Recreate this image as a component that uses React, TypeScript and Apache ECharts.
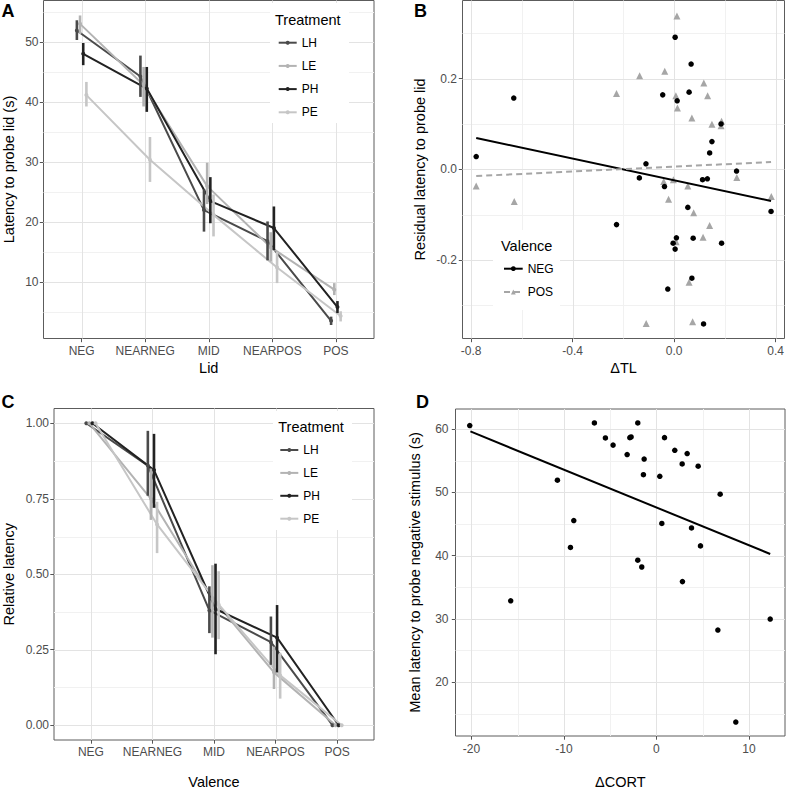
import React, { useEffect, useRef } from "react";
import * as echarts from "echarts";

// ---------- shared categories ----------
const lids = ["NEG", "NEARNEG", "MID", "NEARPOS", "POS"];
const lidPositions = [1, 2, 3, 4, 5];
const treatments = ["LH", "LE", "PH", "PE"];
const treatmentColors = ["#4a4a4a", "#b3b3b3", "#222222", "#c6c6c6"];
const dodgeOffsets = [-0.075, -0.025, 0.025, 0.075];

// ---------- panel A: latency to probe lid (s) ----------
const latLH = [52.0, 44.3, 22.0, 16.8, 3.5];
const latLHlo = [50.4, 40.9, 18.4, 13.6, 2.8];
const latLHhi = [53.7, 47.8, 25.5, 20.1, 4.2];
const latLE = [53.1, 42.9, 26.0, 15.8, 8.7];
const latLElo = [51.4, 39.3, 23.0, 13.4, 7.8];
const latLEhi = [54.5, 45.9, 29.9, 18.3, 9.8];
const latPH = [48.1, 42.3, 23.5, 19.0, 5.8];
const latPHlo = [46.2, 38.4, 19.8, 15.3, 4.8];
const latPHhi = [49.9, 45.9, 27.5, 22.6, 6.8];
const latPE = [41.2, 30.4, 21.2, 12.4, 4.3];
const latPElo = [39.3, 26.7, 17.6, 9.8, 3.4];
const latPEhi = [43.4, 34.2, 24.6, 15.0, 5.1];
const latTicks = [10, 20, 30, 40, 50];
const latMinor = [5, 15, 25, 35, 45, 55];

// ---------- panel C: relative latency ----------
const relLH = [1.0, 0.86, 0.38, 0.275, 0.0];
const relLHlo = [1.0, 0.76, 0.305, 0.2, 0.0];
const relLHhi = [1.0, 0.975, 0.46, 0.36, 0.0];
const relLE = [1.0, 0.75, 0.42, 0.175, 0.0];
const relLElo = [1.0, 0.68, 0.29, 0.12, 0.0];
const relLEhi = [1.0, 0.85, 0.53, 0.26, 0.0];
const relPH = [1.0, 0.845, 0.385, 0.29, 0.0];
const relPHlo = [1.0, 0.72, 0.235, 0.175, 0.0];
const relPHhi = [1.0, 0.965, 0.535, 0.398, 0.0];
const relPE = [1.0, 0.665, 0.4, 0.165, 0.0];
const relPElo = [1.0, 0.57, 0.285, 0.088, 0.0];
const relPEhi = [1.0, 0.74, 0.51, 0.24, 0.0];
const relTicks = [0, 0.25, 0.5, 0.75, 1.0];
const relMinor = [0.125, 0.375, 0.625, 0.875];

// ---------- panel B: residual latency vs delta TL ----------
const negPoints: [number, number][] = [
  [-0.78, 0.028], [-0.632, 0.157], [-0.227, -0.122], [-0.137, -0.019], [-0.111, 0.012],
  [-0.045, 0.164], [-0.038, -0.038], [-0.025, -0.264], [-0.004, -0.163], [0.004, 0.291],
  [0.004, -0.176], [0.009, -0.151], [0.012, 0.151], [0.054, -0.084], [0.059, 0.17],
  [0.067, 0.232], [0.07, -0.24], [0.075, -0.152], [0.112, -0.023], [0.116, -0.341],
  [0.131, -0.021], [0.14, 0.036], [0.149, 0.061], [0.185, 0.1], [0.187, -0.163],
  [0.246, -0.004], [0.382, -0.093],
];
const posPoints: [number, number][] = [
  [-0.78, -0.037], [-0.63, -0.071], [-0.227, 0.167], [-0.136, 0.206], [-0.11, -0.34],
  [-0.037, 0.216], [-0.041, -0.027], [-0.022, -0.066], [-0.003, -0.023], [0.007, 0.162],
  [0.011, 0.338], [0.013, 0.135], [0.008, -0.16], [0.054, -0.037], [0.059, -0.249],
  [0.07, 0.113], [0.073, -0.336], [0.077, -0.096], [0.114, -0.15], [0.117, 0.19],
  [0.132, 0.162], [0.14, -0.124], [0.149, 0.099], [0.185, 0.096], [0.187, 0.106],
  [0.247, -0.018], [0.383, -0.06],
];
const negFit: [number, number][] = [[-0.78, 0.069], [0.382, -0.07]];
const posFit: [number, number][] = [[-0.78, -0.015], [0.382, 0.016]];
const tlTicks = [-0.8, -0.4, 0.0, 0.4];
const tlMinor = [-0.6, -0.2, 0.2];
const residTicks = [-0.2, 0.0, 0.2];
const residMinor = [-0.3, -0.1, 0.1, 0.3];

// ---------- panel D: mean latency vs delta CORT ----------
const cortPoints: [number, number][] = [
  [-20.19, 60.57], [-15.76, 32.85], [-10.71, 51.93], [-9.3, 41.29], [-8.94, 45.55],
  [-6.71, 60.98], [-5.52, 58.61], [-4.69, 57.48], [-3.17, 55.99], [-2.88, 58.66],
  [-2.74, 58.77], [-2.02, 60.98], [-2.02, 39.28], [-1.59, 38.2], [-1.41, 52.8],
  [-1.33, 55.27], [0.36, 52.54], [0.58, 45.09], [0.87, 58.66], [1.98, 56.66],
  [2.78, 54.5], [2.81, 35.89], [3.32, 56.14], [3.79, 44.37], [4.51, 54.14],
  [4.76, 41.54], [6.64, 28.23], [6.89, 49.72], [8.58, 13.68], [12.3, 29.97],
];
const cortFit: [number, number][] = [[-20.12, 59.64], [12.3, 40.26]];
const cortTicks = [-20, -10, 0, 10];
const cortMinor = [-15, -5, 5];
const meanLatTicks = [20, 30, 40, 50, 60];
const meanLatMinor = [15, 25, 35, 45, 55];

// axis ranges [min, max] per panel
const rangeAx = [0.4, 5.6];
const rangeAy = [0.55, 57.0];
const rangeBx = [-0.834, 0.435];
const rangeBy = [-0.373, 0.372];
const rangeCx = [0.4, 5.6];
const rangeCy = [-0.049, 1.049];
const rangeDx = [-21.73, 13.9];
const rangeDy = [11.47, 63.19];

const FONT = "'Liberation Sans', Arial, Helvetica, sans-serif";
const TICK_COLOR = "#4d4d4d";
const BORDER = "#5c5c5c";
const MAJOR_GRID = "#e3e3e3";
const MINOR_GRID = "#f1f1f1";

function valueAxis(o: any) {
  return {
    type: "value",
    gridIndex: o.grid,
    min: o.range[0],
    max: o.range[1],
    minInterval: o.step,
    maxInterval: o.step,
    axisLine: { show: false, onZero: false },
    axisTick: {
      show: true,
      length: 3.7,
      customValues: o.ticks,
      lineStyle: { color: "#555555", width: 1 },
    },
    axisLabel: {
      customValues: o.ticks,
      color: TICK_COLOR,
      fontSize: 12,
      fontFamily: FONT,
      margin: o.margin,
      formatter: o.formatter,
    },
    splitLine: { show: false },
    minorSplitLine: { show: false },
    name: o.name,
    nameLocation: "middle",
    nameGap: o.nameGap,
    nameTextStyle: { color: "#000", fontSize: 14.5, fontFamily: FONT },
  };
}

// grid lines drawn through the axes' own scales
function gridLineSeries(
  axisIndex: number,
  dir: "v" | "h",
  values: number[],
  otherMin: number,
  color: string,
  width: number
) {
  return {
    type: "custom",
    silent: true,
    xAxisIndex: axisIndex,
    yAxisIndex: axisIndex,
    data: values.map((v) => (dir === "v" ? [v, otherMin] : [otherMin, v])),
    encode: { x: 0, y: 1 },
    renderItem: (params: any, api: any) => {
      const cs = params.coordSys;
      const p = api.coord([api.value(0), api.value(1)]);
      if (dir === "v") {
        const x = Math.round(p[0]) + 0.5;
        return {
          type: "line",
          shape: { x1: x, y1: cs.y, x2: x, y2: cs.y + cs.height },
          style: { stroke: color, lineWidth: width },
        };
      }
      const y = Math.round(p[1]) + 0.5;
      return {
        type: "line",
        shape: { x1: cs.x, y1: y, x2: cs.x + cs.width, y2: y },
        style: { stroke: color, lineWidth: width },
      };
    },
    z: 0.5,
  };
}

function lineGroupSeries(
  axisIndex: number,
  means: number[][],
  los: number[][],
  his: number[][]
) {
  const out: any[] = [];
  treatments.forEach((t, i) => {
    const color = treatmentColors[i];
    out.push({
      name: t,
      type: "line",
      xAxisIndex: axisIndex,
      yAxisIndex: axisIndex,
      data: means[i].map((v, j) => [lidPositions[j] + dodgeOffsets[i], v]),
      symbol: "circle",
      symbolSize: 4,
      showSymbol: true,
      lineStyle: { color, width: 2 },
      itemStyle: { color },
      z: 2,
    });
    out.push({
      name: t + " error",
      type: "custom",
      xAxisIndex: axisIndex,
      yAxisIndex: axisIndex,
      data: los[i].map((l, j) => [lidPositions[j] + dodgeOffsets[i], l, his[i][j]]),
      encode: { x: 0, y: [1, 2] },
      renderItem: (params: any, api: any) => {
        const x = api.value(0);
        const p1 = api.coord([x, api.value(1)]);
        const p2 = api.coord([x, api.value(2)]);
        return {
          type: "line",
          shape: { x1: p1[0], y1: p1[1], x2: p2[0], y2: p2[1] },
          style: { stroke: color, lineWidth: 2.6 },
        };
      },
      z: 3,
    });
  });
  return out;
}

export default function App() {
  const ref = useRef<HTMLDivElement>(null);

  useEffect(() => {
    if (!ref.current) return;
    const chart = echarts.init(ref.current, undefined, { renderer: "svg" });

    const gridBase = {
      show: true,
      backgroundColor: "#ffffff",
      borderColor: BORDER,
      borderWidth: 1,
      containLabel: false,
    };

    const legendBase = {
      orient: "vertical",
      padding: 0,
      itemWidth: 18,
      itemHeight: 5,
      itemGap: 11.2,
      selectedMode: false,
      textStyle: { fontSize: 12, fontFamily: FONT, color: "#000", lineHeight: 12 },
      z: 6,
    };

    const catFormatter = (v: number) => lids[lidPositions.indexOf(Math.round(v))] ?? "";

    const option: any = {
      animation: false,
      grid: [
        { ...gridBase, left: 43.5, top: 0.5, width: 330.5, height: 338 },
        { ...gridBase, left: 462.5, top: 0.5, width: 322, height: 338 },
        { ...gridBase, left: 54, top: 408.5, width: 320, height: 337 },
        { ...gridBase, left: 455.5, top: 409, width: 329.5, height: 335.5 },
      ],
      xAxis: [
        valueAxis({
          grid: 0, range: rangeAx, step: 1, ticks: lidPositions, margin: 6,
          formatter: catFormatter, name: "Lid", nameGap: 22,
        }),
        valueAxis({
          grid: 1, range: rangeBx, step: 0.4, ticks: tlTicks, margin: 6,
          formatter: (v: number) => v.toFixed(1), name: "\u0394TL", nameGap: 22,
        }),
        valueAxis({
          grid: 2, range: rangeCx, step: 1, ticks: lidPositions, margin: 6,
          formatter: catFormatter, name: "Valence", nameGap: 34,
        }),
        valueAxis({
          grid: 3, range: rangeDx, step: 10, ticks: cortTicks, margin: 7,
          formatter: (v: number) => String(Math.round(v)), name: "\u0394CORT", nameGap: 38,
        }),
      ],
      yAxis: [
        valueAxis({
          grid: 0, range: rangeAy, step: 10, ticks: latTicks, margin: 5,
          formatter: (v: number) => String(Math.round(v)), name: "Latency to probe lid (s)", nameGap: 27,
        }),
        valueAxis({
          grid: 1, range: rangeBy, step: 0.2, ticks: residTicks, margin: 5.5,
          formatter: (v: number) => v.toFixed(1), name: "Residual latency to probe lid", nameGap: 35,
        }),
        valueAxis({
          grid: 2, range: rangeCy, step: 0.25, ticks: relTicks, margin: 5,
          formatter: (v: number) => v.toFixed(2), name: "Relative latency", nameGap: 38,
        }),
        valueAxis({
          grid: 3, range: rangeDy, step: 10, ticks: meanLatTicks, margin: 7,
          formatter: (v: number) => String(Math.round(v)),
          name: "Mean latency to probe negative stimulus (s)", nameGap: 33,
        }),
      ],
      legend: [
        { ...legendBase, data: treatments, left: 277.7, top: 36.7 },
        { ...legendBase, data: treatments, left: 279.3, top: 444, itemGap: 10.9 },
        { ...legendBase, data: ["NEG", "POS"], left: 503, top: 262.7, itemWidth: 18.7, itemHeight: 6, itemGap: 11.3 },
      ],
      graphic: [
        // legend backgrounds
        { type: "rect", z: 1, silent: true, shape: { x: 270, y: 3, width: 79, height: 120 }, style: { fill: "#fff" } },
        { type: "rect", z: 1, silent: true, shape: { x: 273, y: 411, width: 79, height: 119 }, style: { fill: "#fff" } },
        { type: "rect", z: 1, silent: true, shape: { x: 493, y: 230, width: 67, height: 80 }, style: { fill: "#fff" } },
        // legend titles
        { type: "text", z: 7, x: 275, y: 20, style: { text: "Treatment", fontSize: 14.5, fontFamily: FONT, fill: "#000", verticalAlign: "middle" } },
        { type: "text", z: 7, x: 278.3, y: 426.7, style: { text: "Treatment", fontSize: 14.5, fontFamily: FONT, fill: "#000", verticalAlign: "middle" } },
        { type: "text", z: 7, x: 501, y: 246, style: { text: "Valence", fontSize: 14.5, fontFamily: FONT, fill: "#000", verticalAlign: "middle" } },
        // panel labels
        { type: "text", z: 7, x: 1.5, y: 11, style: { text: "A", fontSize: 18, fontWeight: "bold", fontFamily: FONT, fill: "#000", verticalAlign: "middle" } },
        { type: "text", z: 7, x: 414, y: 11, style: { text: "B", fontSize: 18, fontWeight: "bold", fontFamily: FONT, fill: "#000", verticalAlign: "middle" } },
        { type: "text", z: 7, x: 1.5, y: 402, style: { text: "C", fontSize: 18, fontWeight: "bold", fontFamily: FONT, fill: "#000", verticalAlign: "middle" } },
        { type: "text", z: 7, x: 416, y: 402, style: { text: "D", fontSize: 18, fontWeight: "bold", fontFamily: FONT, fill: "#000", verticalAlign: "middle" } },
      ],
      series: [
        // grid lines: minor first, then major
        gridLineSeries(0, "h", latMinor, rangeAx[0], MINOR_GRID, 1),
        gridLineSeries(0, "h", latTicks, rangeAx[0], MAJOR_GRID, 1),
        gridLineSeries(0, "v", lidPositions, rangeAy[0], MAJOR_GRID, 1),
        gridLineSeries(1, "v", tlMinor, rangeBy[0], MINOR_GRID, 1),
        gridLineSeries(1, "h", residMinor, rangeBx[0], MINOR_GRID, 1),
        gridLineSeries(1, "v", tlTicks, rangeBy[0], MAJOR_GRID, 1),
        gridLineSeries(1, "h", residTicks, rangeBx[0], MAJOR_GRID, 1),
        gridLineSeries(2, "h", relMinor, rangeCx[0], MINOR_GRID, 1),
        gridLineSeries(2, "h", relTicks, rangeCx[0], MAJOR_GRID, 1),
        gridLineSeries(2, "v", lidPositions, rangeCy[0], MAJOR_GRID, 1),
        gridLineSeries(3, "v", cortMinor, rangeDy[0], MINOR_GRID, 1),
        gridLineSeries(3, "h", meanLatMinor, rangeDx[0], MINOR_GRID, 1),
        gridLineSeries(3, "v", cortTicks, rangeDy[0], MAJOR_GRID, 1),
        gridLineSeries(3, "h", meanLatTicks, rangeDx[0], MAJOR_GRID, 1),
        // data
        ...lineGroupSeries(0, [latLH, latLE, latPH, latPE], [latLHlo, latLElo, latPHlo, latPElo], [latLHhi, latLEhi, latPHhi, latPEhi]),
        ...lineGroupSeries(2, [relLH, relLE, relPH, relPE], [relLHlo, relLElo, relPHlo, relPElo], [relLHhi, relLEhi, relPHhi, relPEhi]),
        {
          name: "NEG", type: "line", xAxisIndex: 1, yAxisIndex: 1, data: negFit,
          symbol: "circle", showSymbol: false, lineStyle: { color: "#000", width: 2 }, itemStyle: { color: "#000" }, z: 4,
        },
        {
          name: "POS", type: "line", xAxisIndex: 1, yAxisIndex: 1, data: posFit,
          symbol: "triangle", showSymbol: false, lineStyle: { color: "#a6a6a6", width: 2, type: [6, 4] }, itemStyle: { color: "#a6a6a6" }, z: 4,
        },
        {
          name: "NEG", type: "scatter", xAxisIndex: 1, yAxisIndex: 1, data: negPoints,
          symbol: "circle", symbolSize: 5.5, itemStyle: { color: "#000", opacity: 1 }, z: 3,
        },
        {
          name: "POS", type: "scatter", xAxisIndex: 1, yAxisIndex: 1, data: posPoints,
          symbol: "triangle", symbolSize: 7, itemStyle: { color: "#a6a6a6", opacity: 1 }, z: 2,
        },
        {
          name: "cort", type: "scatter", xAxisIndex: 3, yAxisIndex: 3, data: cortPoints,
          symbol: "circle", symbolSize: 5.5, itemStyle: { color: "#000", opacity: 1 }, z: 3,
        },
        {
          name: "cortFit", type: "line", xAxisIndex: 3, yAxisIndex: 3, data: cortFit,
          showSymbol: false, lineStyle: { color: "#000", width: 2 }, z: 4,
        },
      ],
    };

    chart.setOption(option);
    return () => chart.dispose();
  }, []);

  return (
    <div
      ref={ref}
      style={{ position: "absolute", left: 0, top: 0, width: 787, height: 790, background: "#fff" }}
    />
  );
}
